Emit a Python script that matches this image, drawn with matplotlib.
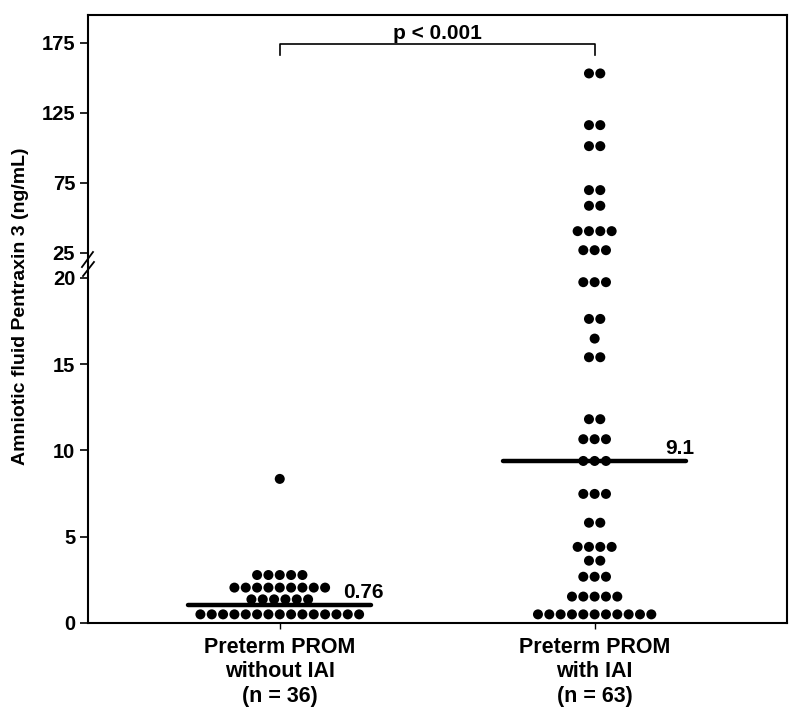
import numpy as np
import matplotlib
matplotlib.use("Agg")
import matplotlib.pyplot as plt
from matplotlib.lines import Line2D

# ---- data ----
groups = ["Preterm PROM\nwithout IAI\n(n = 36)", "Preterm PROM\nwith IAI\n(n = 63)"]
# each row: (value, count)
g1_values = [0.5, 1.37, 2.05, 2.78, 8.35]
g1_counts = [15, 6, 9, 5, 1]
g2_values = [0.5, 1.53, 2.68, 3.61, 4.41, 5.81, 7.48, 9.39, 10.65, 11.81,
             15.4, 16.48, 17.62, 19.75, 26.9, 40.5, 58.6, 69.8, 101.2, 116.2, 153.1]
g2_counts = [11, 5, 3, 2, 4, 2, 3, 3, 3, 2,
             2, 1, 2, 3, 3, 4, 2, 2, 2, 2, 2]
median_lines = [1.04, 9.39]
median_labels = ["0.76", "9.1"]
yticks = [0, 5, 10, 15, 20, 25, 75, 125, 175]
p_text = "p < 0.001"
ylabel = "Amniotic fluid Pentraxin 3 (ng/mL)"

# ---- broken y scale ----
LO, HI = 20.0, 25.0
S_LO = 17.25   # px per unit below 20
S_GAP = 5.0    # px per unit inside the break
S_HI = 1.4     # px per unit above 25
P20 = LO * S_LO
P25 = P20 + (HI - LO) * S_GAP

def fwd(v):
    v = np.asarray(v, dtype=float)
    return np.where(v <= LO, v * S_LO,
                    np.where(v <= HI, P20 + (v - LO) * S_GAP,
                             P25 + (v - HI) * S_HI))

def inv(p):
    p = np.asarray(p, dtype=float)
    return np.where(p <= P20, p / S_LO,
                    np.where(p <= P25, LO + (p - P20) / S_GAP,
                             HI + (p - P25) / S_HI))

plt.rcParams['font.family'] = ['Liberation Sans', 'DejaVu Sans']
plt.rcParams['font.weight'] = 'bold'

fig = plt.figure(figsize=(8, 7.16), dpi=100)
ax = fig.add_axes([0.1096, 0.1299, 0.8738, 0.8491])
ax.set_yscale('function', functions=(fwd, inv))

spacing = 0.036
for xc, vals, cnts in [(1, g1_values, g1_counts), (2, g2_values, g2_counts)]:
    xs, ys = [], []
    for v, n in zip(vals, cnts):
        offs = (np.arange(n) - (n - 1) / 2) * spacing
        xs.extend(xc + offs)
        ys.extend([v] * n)
    ax.scatter(xs, ys, s=52, color='black', edgecolors='none', zorder=3)

hw = 0.29
label_pos = [(1.20, 1.74), (2.223, 10.14)]
for xc, m, lab, (lx, ly) in zip([1, 2], median_lines, median_labels, label_pos):
    ax.plot([xc - hw, xc + hw], [m, m], color='black', lw=3.2,
            solid_capstyle='round', zorder=4)
    ax.text(lx, ly, lab, fontsize=15, fontweight='bold',
            ha='left', va='center')

ax.set_xlim(0.39, 2.61)
ax.set_ylim(0, 194.8)
ax.set_xticks([1, 2])
ax.set_xticklabels(groups, fontsize=15.5, fontweight='bold', linespacing=1.22)
ax.set_yticks(yticks)
ax.set_yticklabels([str(t) for t in yticks], fontsize=14.5, fontweight='bold')
ax.tick_params(axis='y', direction='out', length=6, width=1.2, pad=3)
ax.tick_params(axis='x', direction='out', length=4, width=1.0, pad=6)
ax.minorticks_off()
for sp in ax.spines.values():
    sp.set_linewidth(1.5)
ax.set_ylabel(ylabel, fontsize=14, fontweight='bold')
ax.yaxis.set_label_coords(-0.084, 0.521)

# axis-break marks
for (x0, x1, y0, y1) in [(-0.0082, 0.0076, 0.5855, 0.6102),
                         (-0.0067, 0.0090, 0.5707, 0.5938)]:
    ax.add_line(Line2D([x0, x1], [y0, y1], transform=ax.transAxes,
                       color='black', lw=1.3, clip_on=False))

# significance bracket
by, bt = 174.1, 166.2
ax.plot([1, 1, 2, 2], [bt, by, by, bt], color='black', lw=1.2)
ax.text(1.5, 181.9, p_text, ha='center', va='center', fontsize=15,
        fontweight='bold')

fig.savefig("out.png", dpi=100)
